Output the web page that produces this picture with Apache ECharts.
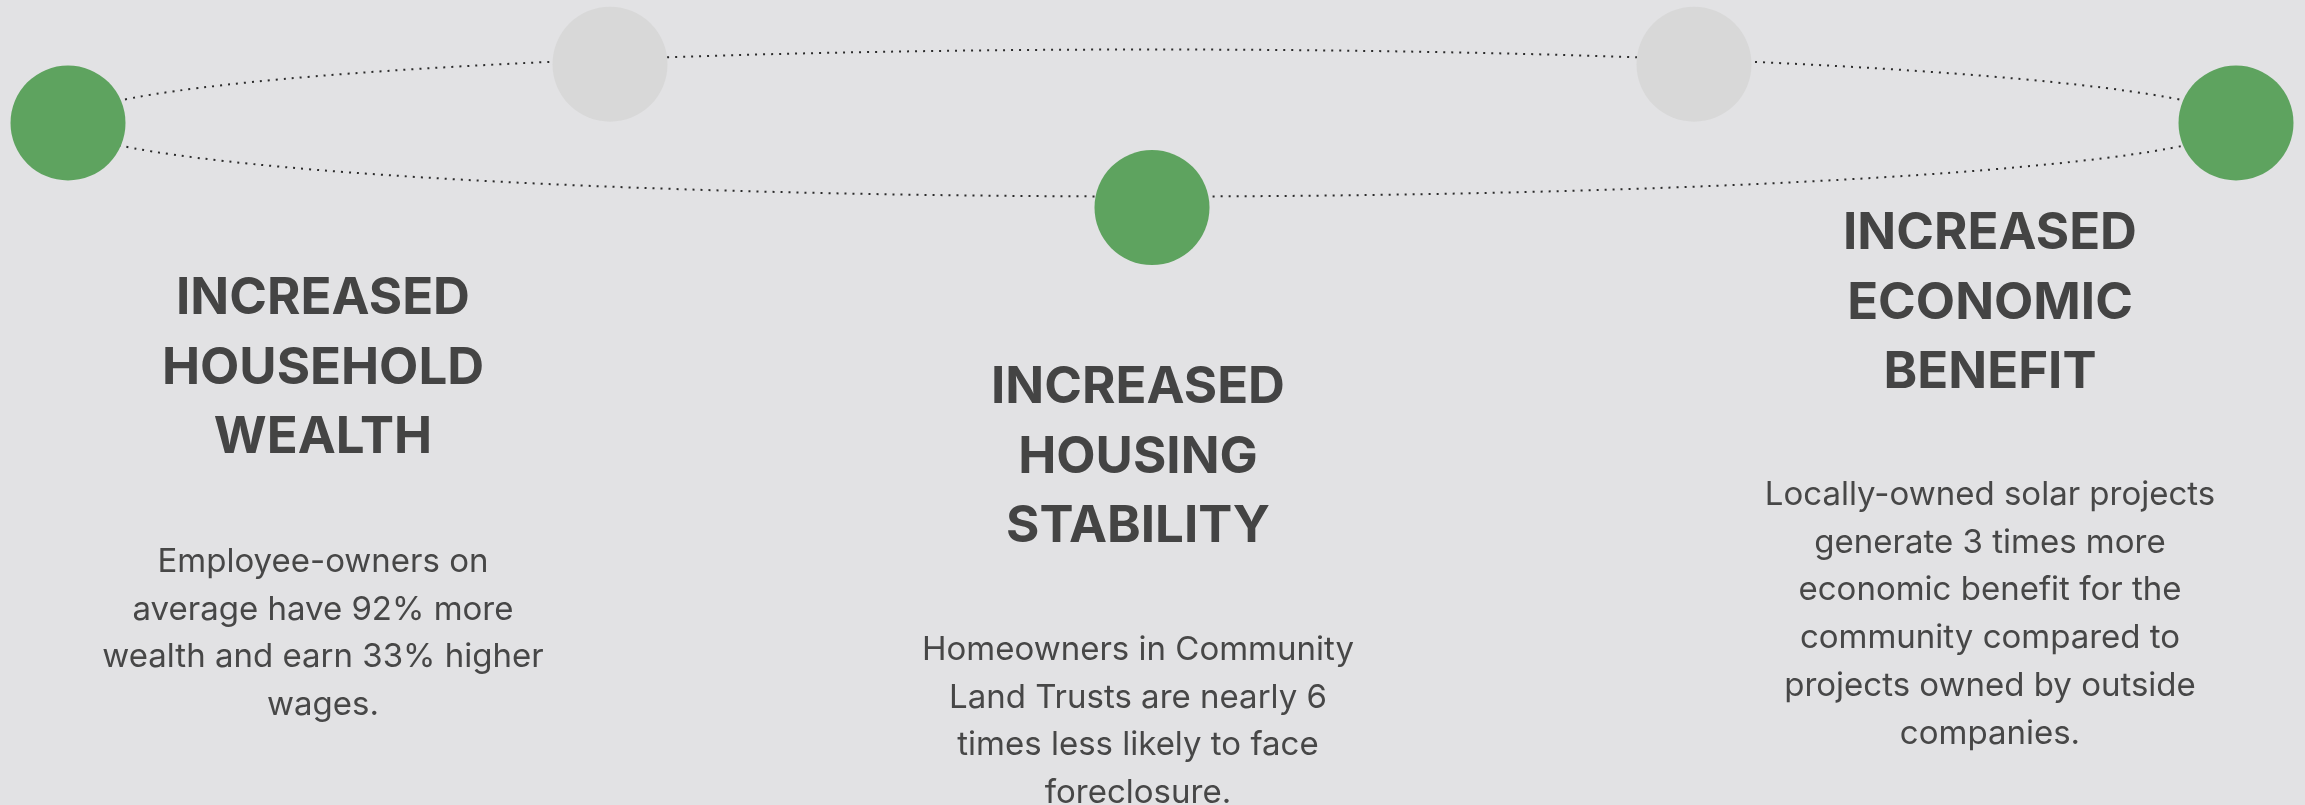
<!DOCTYPE html>
<html>
<head>
<meta charset="utf-8">
<script src="https://cdn.jsdelivr.net/npm/echarts@6/dist/echarts.min.js"></script>
<style>
  html, body { margin: 0; padding: 0; background: #e2e2e4; }
  #chart { width: 2305px; height: 805px; }
</style>
</head>
<body>
<div id="chart"></div>
<script>
// ---- data ----
const stepIndex = [0, 1, 2, 3, 4];
const stepLevel = [0, 0.8, -1.15, 0.8, 0];
const stepActive = [true, false, true, false, true];
const orbit = [2, 0, 2, 1]; // centre x, centre y, half-width, half-height (axis units)
const titles = [
  'INCREASED\nHOUSEHOLD\nWEALTH',
  'INCREASED\nHOUSING\nSTABILITY',
  'INCREASED\nECONOMIC\nBENEFIT'
];
const descriptions = [
  'Employee-owners on\naverage have 92% more\nwealth and earn 33% higher\nwages.',
  'Homeowners in Community\nLand Trusts are nearly 6\ntimes less likely to face\nforeclosure.',
  'Locally-owned solar projects\ngenerate 3 times more\neconomic benefit for the\ncommunity compared to\nprojects owned by outside\ncompanies.'
];

// ---- layout (pixels) ----
const blockX = [323, 1138, 1990];
const titleTop = [264, 353, 199];
const bodyTop = [538, 626, 471];

const GREEN = '#5ea35f';
const GREY = '#d8d8d8';
const TEXT = '#444444';

const chart = echarts.init(document.getElementById('chart'));

const graphics = [];
titles.forEach((t, i) => {
  graphics.push({
    type: 'text', x: blockX[i], y: titleTop[i], z: 10,
    style: {
      text: t, align: 'center', verticalAlign: 'top',
      fill: TEXT, fontFamily: 'Inter', fontWeight: 700, fontSize: 51, lineHeight: 69.5
    }
  });
  graphics.push({
    type: 'text', x: blockX[i], y: bodyTop[i], z: 10,
    style: {
      text: descriptions[i], align: 'center', verticalAlign: 'top',
      fill: '#474747', fontFamily: 'Inter', fontWeight: 400, fontSize: 33, lineHeight: 47.8
    }
  });
});

chart.setOption({
  backgroundColor: '#e2e2e4',
  animation: false,
  grid: { left: 68, width: 2168, top: 49.5, height: 183.75, show: false },
  xAxis: { type: 'value', min: 0, max: 4, show: false },
  yAxis: { type: 'value', min: -1.5, max: 1, show: false },
  graphic: graphics,
  series: [
    {
      type: 'custom',
      coordinateSystem: 'cartesian2d',
      clip: false,
      z: 1,
      silent: true,
      data: [orbit],
      renderItem: function (params, api) {
        const c = api.coord([api.value(0), api.value(1)]);
        const s = api.size([api.value(2), api.value(3)]);
        return {
          type: 'ellipse',
          shape: { cx: c[0], cy: c[1], rx: s[0], ry: s[1] },
          style: { fill: 'none', stroke: '#2b2b2b', lineWidth: 2, lineDash: [2, 6] }
        };
      }
    },
    {
      type: 'scatter',
      clip: false,
      z: 3,
      symbol: 'circle',
      symbolSize: 115,
      silent: true,
      data: stepIndex.map((x, i) => ({
        value: [x, stepLevel[i]],
        itemStyle: { color: stepActive[i] ? GREEN : GREY, opacity: 1 }
      }))
    }
  ]
});
</script>
</body>
</html>
